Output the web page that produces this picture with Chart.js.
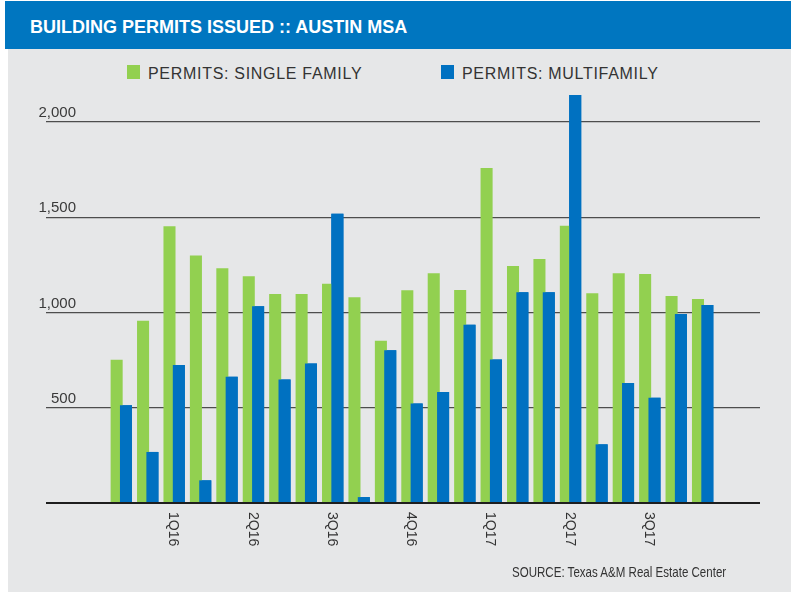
<!DOCTYPE html>
<html>
<head>
<meta charset="utf-8">
<title>Building Permits Issued :: Austin MSA</title>
<script src="https://cdn.jsdelivr.net/npm/chart.js@4.4.1/dist/chart.umd.min.js"></script>
<style>
    html, body { margin: 0; padding: 0; background: #fff; }
    body { width: 791px; height: 592px; position: relative; overflow: hidden; font-family: "Liberation Sans", Arial, sans-serif; }
    .header { position: absolute; left: 5px; top: 1px; width: 786px; height: 48px; background: #0076c0; }
    .header h1 { position: absolute; left: 25px; top: 15px; margin: 0; font-size: 18px; line-height: 22px; font-weight: bold; color: #fff; white-space: nowrap; }
    .panel { position: absolute; left: 8px; top: 49px; width: 783px; height: 543px; background: #e6e7e8; }
    .legend-item { position: absolute; top: 65px; height: 14px; }
    .legend-item .swatch { position: absolute; left: 0; top: 0; width: 13px; height: 14px; }
    .legend-item .text { position: absolute; left: 21px; top: 0.5px; font-size: 16px; line-height: 16px; letter-spacing: 0.7px; color: #333; white-space: nowrap; }
    .chart-box { position: absolute; left: 8px; top: 74px; width: 783px; height: 518px; }
    .source { position: absolute; left: 512px; top: 564px; font-size: 15px; line-height: 15px; color: #333; white-space: nowrap; transform: scaleX(0.77); transform-origin: left center; }
</style>
</head>
<body>
<div class="header"><h1>BUILDING PERMITS ISSUED :: AUSTIN MSA</h1></div>
<div class="panel"></div>
<div id="legend"></div>
<div class="chart-box"><canvas id="permitsChart"></canvas></div>
<div class="source">SOURCE: Texas A&amp;M Real Estate Center</div>

<script>
// monthly permits, Nov 2015 - Sep 2017
const months = [
    'Nov 2015', 'Dec 2015',
    'Jan 2016', 'Feb 2016', 'Mar 2016', 'Apr 2016', 'May 2016', 'Jun 2016',
    'Jul 2016', 'Aug 2016', 'Sep 2016', 'Oct 2016', 'Nov 2016', 'Dec 2016',
    'Jan 2017', 'Feb 2017', 'Mar 2017', 'Apr 2017', 'May 2017', 'Jun 2017',
    'Jul 2017', 'Aug 2017', 'Sep 2017'
];
const singleFamily = [752, 957, 1453, 1299, 1232, 1190, 1097, 1097, 1151, 1080, 852, 1117,
    1206, 1118, 1759, 1244, 1281, 1456, 1101, 1206, 1202, 1087, 1071];
const multifamily = [513, 268, 724, 119, 663, 1033, 649, 733, 1519, 31, 802, 523,
    583, 936, 754, 1106, 1106, 2142, 308, 630, 553, 993, 1040];

const seriesNames = ['PERMITS: SINGLE FAMILY', 'PERMITS: MULTIFAMILY'];
const seriesColors = ['#92d050', '#0071c1'];

const quarterLabels = ['1Q16', '2Q16', '3Q16', '4Q16', '1Q17', '2Q17', '3Q17'];
const quarterMonths = ['Jan 2016', 'Apr 2016', 'Jul 2016', 'Oct 2016', 'Jan 2017', 'Apr 2017', 'Jul 2017'];
const yTicks = [0, 500, 1000, 1500, 2000];

// legend (html)
const legendLeft = [127, 441];
const legendEl = document.getElementById('legend');
seriesNames.forEach((name, i) => {
    const item = document.createElement('div');
    item.className = 'legend-item';
    item.style.left = legendLeft[i] + 'px';
    item.innerHTML = `<span class="swatch" style="background:${seriesColors[i]}"></span><span class="text">${name}</span>`;
    legendEl.appendChild(item);
});

// rotated quarter labels under the axis (read top to bottom)
const quarterLabelPlugin = {
    id: 'quarterLabels',
    afterDraw(chart) {
        const { ctx, chartArea, scales: { x } } = chart;
        ctx.save();
        ctx.fillStyle = '#333';
        ctx.font = '14px "Liberation Sans", Arial, sans-serif';
        ctx.textAlign = 'left';
        ctx.textBaseline = 'middle';
        quarterLabels.forEach((label, i) => {
            const px = x.getPixelForValue(months.indexOf(quarterMonths[i])) - 1;
            ctx.save();
            ctx.translate(px, chartArea.bottom + 9);
            ctx.rotate(Math.PI / 2);
            ctx.fillText(label, 0, 0);
            ctx.restore();
        });
        ctx.restore();
    }
};

// multifamily bars sit over the single family ones
const multifamilyOnTop = {
    id: 'multifamilyOnTop',
    afterDatasetsDraw(chart) {
        const meta = chart.getDatasetMeta(1);
        if (meta.visible) meta.controller.draw();
    }
};

const toPoints = arr => arr.map((v, i) => ({ x: i, y: v }));

new Chart(document.getElementById('permitsChart'), {
    type: 'bar',
    data: {
        datasets: [
            { label: seriesNames[0], data: toPoints(singleFamily), backgroundColor: seriesColors[0] },
            { label: seriesNames[1], data: toPoints(multifamily), backgroundColor: seriesColors[1] }
        ]
    },
    options: {
        responsive: true,
        maintainAspectRatio: false,
        animation: false,
        categoryPercentage: 0.707,
        barPercentage: 1.29,
        layout: { padding: { left: 38, right: 31, top: 10, bottom: 89 } },
        plugins: {
            legend: { display: false },
            tooltip: { enabled: false }
        },
        scales: {
            x: {
                type: 'linear',
                display: false,
                offset: false,
                min: -2.85,
                max: 24.17,
                afterBuildTicks: s => {
                    s.ticks = quarterMonths.map(m => ({ value: months.indexOf(m) }));
                }
            },
            y: {
                min: 0,
                max: 2200,
                afterBuildTicks: s => {
                    s.ticks = yTicks.map(v => ({ value: v }));
                },
                border: { display: false },
                grid: {
                    drawTicks: false,
                    color: c => c.tick && c.tick.value === 0 ? '#1e1e1e' : '#4d4d4d',
                    lineWidth: c => c.tick && c.tick.value === 0 ? 2 : 1.3
                },
                ticks: {
                    mirror: true,
                    crossAlign: 'far',
                    padding: -2.5,
                    labelOffset: -9,
                    color: '#3a3a3a',
                    font: { family: '"Liberation Sans", Arial, sans-serif', size: 15 },
                    callback: v => v === 0 ? '' : v.toLocaleString('en-US')
                }
            }
        }
    },
    plugins: [quarterLabelPlugin, multifamilyOnTop]
});
</script>
</body>
</html>
